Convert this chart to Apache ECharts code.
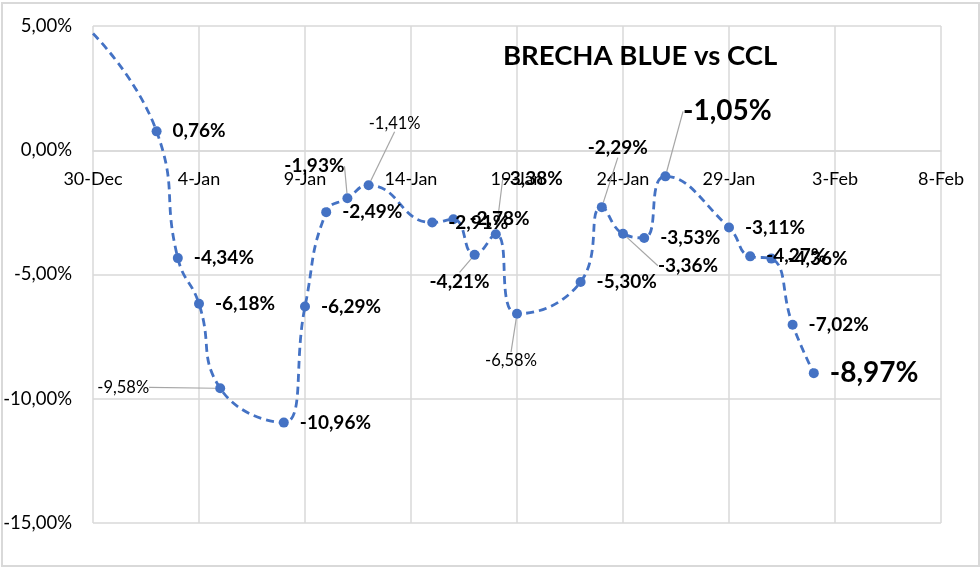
<!DOCTYPE html>
<html>
<head>
<meta charset="utf-8">
<script src="https://cdn.jsdelivr.net/npm/echarts@6/dist/echarts.min.js"></script>
<style>
  html, body { margin: 0; padding: 0; background: #ffffff; }
  #chart { width: 980px; height: 573px; position: relative; }
  #frame { position: absolute; left: 1px; top: 2px; width: 975px; height: 561px; border: 2px solid #d9d9d9; pointer-events: none; }
</style>
</head>
<body>
<div id="chart"></div>
<div id="frame"></div>
<script>
// ---- data ----
const dates = [
  '2020-12-30', '2021-01-02', '2021-01-03', '2021-01-04', '2021-01-05',
  '2021-01-08', '2021-01-09', '2021-01-10', '2021-01-11', '2021-01-12',
  '2021-01-15', '2021-01-16', '2021-01-17', '2021-01-18', '2021-01-19',
  '2021-01-22', '2021-01-23', '2021-01-24', '2021-01-25', '2021-01-26',
  '2021-01-29', '2021-01-30', '2021-01-31', '2021-02-01', '2021-02-02'
];
const brecha = [
  4.70, 0.76, -4.34, -6.18, -9.58,
  -10.96, -6.29, -2.49, -1.93, -1.41,
  -2.91, -2.78, -4.21, -3.38, -6.58,
  -5.30, -2.29, -3.36, -3.53, -1.05,
  -3.11, -4.27, -4.36, -7.02, -8.97
];
const xTickLabels = ['30-Dec', '4-Jan', '9-Jan', '14-Jan', '19-Jan', '24-Jan', '29-Jan', '3-Feb', '8-Feb'];
const yMin = -15, yMax = 5, yStep = 5;
const title = 'BRECHA BLUE vs CCL';

// ---- label styling (per point index) ----
const FONT = 'Lato';
const boldRight = { position: 'right', distance: 11, fontWeight: 'bold', fontSize: 19 };
const labelCfg = {
  0: null,
  4: { position: 'inside', dx: -97, dy: -1, fontSize: 16.5, fontWeight: 'normal', line: true },
  5: { position: 'right', distance: 11, fontWeight: 'bold', fontSize: 19, offset: [0, 1] },
  7: { position: 'right', distance: 11, fontWeight: 'bold', fontSize: 19, offset: [0, 3] },
  8: { position: 'inside', dx: -33, dy: -32, fontWeight: 'bold', fontSize: 19, line: true },
  9: { position: 'inside', dx: 26, dy: -62, fontSize: 16.5, fontWeight: 'normal', line: true },
  10: { position: 'right', distance: 11, fontWeight: 'bold', fontSize: 19, offset: [0, 2] },
  11: { position: 'right', distance: 11, fontWeight: 'bold', fontSize: 19, offset: [8, 2] },
  12: { position: 'inside', dx: -15, dy: 27, fontWeight: 'bold', fontSize: 19, line: true },
  13: { position: 'inside', dx: 37, dy: -55, fontWeight: 'bold', fontSize: 19, line: true },
  14: { position: 'inside', dx: -6, dy: 47, fontSize: 16.5, fontWeight: 'normal', line: true },
  16: { position: 'inside', dx: 16, dy: -59, fontWeight: 'bold', fontSize: 19, line: true },
  17: { position: 'inside', dx: 65, dy: 32, fontWeight: 'bold', fontSize: 19, line: true },
  18: { position: 'right', distance: 11, fontWeight: 'bold', fontSize: 19, offset: [6, 3] },
  19: { position: 'inside', dx: 62, dy: -65, fontWeight: 'bold', fontSize: 28, line: true },
  20: { position: 'right', distance: 11, fontWeight: 'bold', fontSize: 19, offset: [0, 3] },
  24: { position: 'right', distance: 11, fontWeight: 'bold', fontSize: 28, offset: [0, 3] }
};

const base = Date.UTC(2020, 11, 30);
function dayOffset(iso) {
  const p = iso.split('-').map(Number);
  return Math.round((Date.UTC(p[0], p[1] - 1, p[2]) - base) / 86400000);
}
function pct(v) { return v.toFixed(2).replace('.', ',') + '%'; }

const seriesData = dates.map(function (d, i) {
  const item = { value: [dayOffset(d), brecha[i]] };
  const cfg = (i in labelCfg) ? labelCfg[i] : boldRight;
  if (cfg === null) {
    item.symbol = 'none';
    item.label = { show: false };
    return item;
  }
  item.label = {
    show: true,
    position: cfg.position,
    distance: cfg.distance || 5,
    offset: cfg.offset || [0, 2],
    fontWeight: cfg.fontWeight,
    fontSize: cfg.fontSize,
    fontFamily: FONT,
    color: '#000000',
    formatter: pct(brecha[i])
  };
  item.labelLine = cfg.line ? { show: true, lineStyle: { color: '#a6a6a6', width: 1.2 } } : { show: false };
  return item;
});

// grid geometry
const W = 980, H = 573;
const gridTop = 26, gridBottom = 50;
const gridH = H - gridTop - gridBottom;
// shift the x axis (line + labels) up to the zero line
const xAxisOffset = -gridH * (0 - yMin) / (yMax - yMin);

const chart = echarts.init(document.getElementById('chart'), null, { renderer: 'canvas' });
chart.setOption({
  animation: false,
  backgroundColor: '#ffffff',
  title: {
    text: title,
    left: 498, top: 37,
    textStyle: { fontFamily: FONT, fontWeight: 'bold', fontSize: 27.5, color: '#000000' }
  },
  grid: { left: 93, right: 39, top: gridTop, bottom: gridBottom },
  xAxis: {
    type: 'value',
    min: 0, max: 40, interval: 5,
    position: 'bottom',
    offset: xAxisOffset,
    axisLine: { onZero: false, show: true, lineStyle: { color: '#d9d9d9', width: 1.5 } },
    axisTick: { show: false },
    axisLabel: {
      margin: 20,
      fontFamily: FONT, fontSize: 18, color: '#000000',
      formatter: function (v) { return xTickLabels[Math.round(v / 5)] || ''; }
    },
    splitLine: { show: true, lineStyle: { color: '#d9d9d9', width: 1.5 } }
  },
  yAxis: {
    type: 'value',
    min: yMin, max: yMax, interval: yStep,
    axisLine: { show: false, onZero: false },
    axisTick: { show: false },
    axisLabel: {
      margin: 21,
      fontFamily: FONT, fontSize: 18.5, color: '#000000',
      formatter: function (v) { return pct(v); }
    },
    splitLine: { show: true, lineStyle: { color: '#d9d9d9', width: 1.5 } }
  },
  series: [{
    type: 'line',
    data: seriesData,
    smooth: 0.5,
    symbol: 'circle',
    symbolSize: 10,
    itemStyle: { color: '#4472c4' },
    lineStyle: { color: '#4472c4', width: 2.8, type: [8, 5] },
    labelLine: { show: false, lineStyle: { color: '#a6a6a6', width: 1.2 } },
    labelLayout: function (p) {
      const c = labelCfg[p.dataIndex];
      if (c && c.dx != null) {
        return { dx: c.dx, dy: c.dy, moveOverlap: false, hideOverlap: false };
      }
      return { moveOverlap: false, hideOverlap: false };
    },
    z: 5
  }]
});
</script>
</body>
</html>
